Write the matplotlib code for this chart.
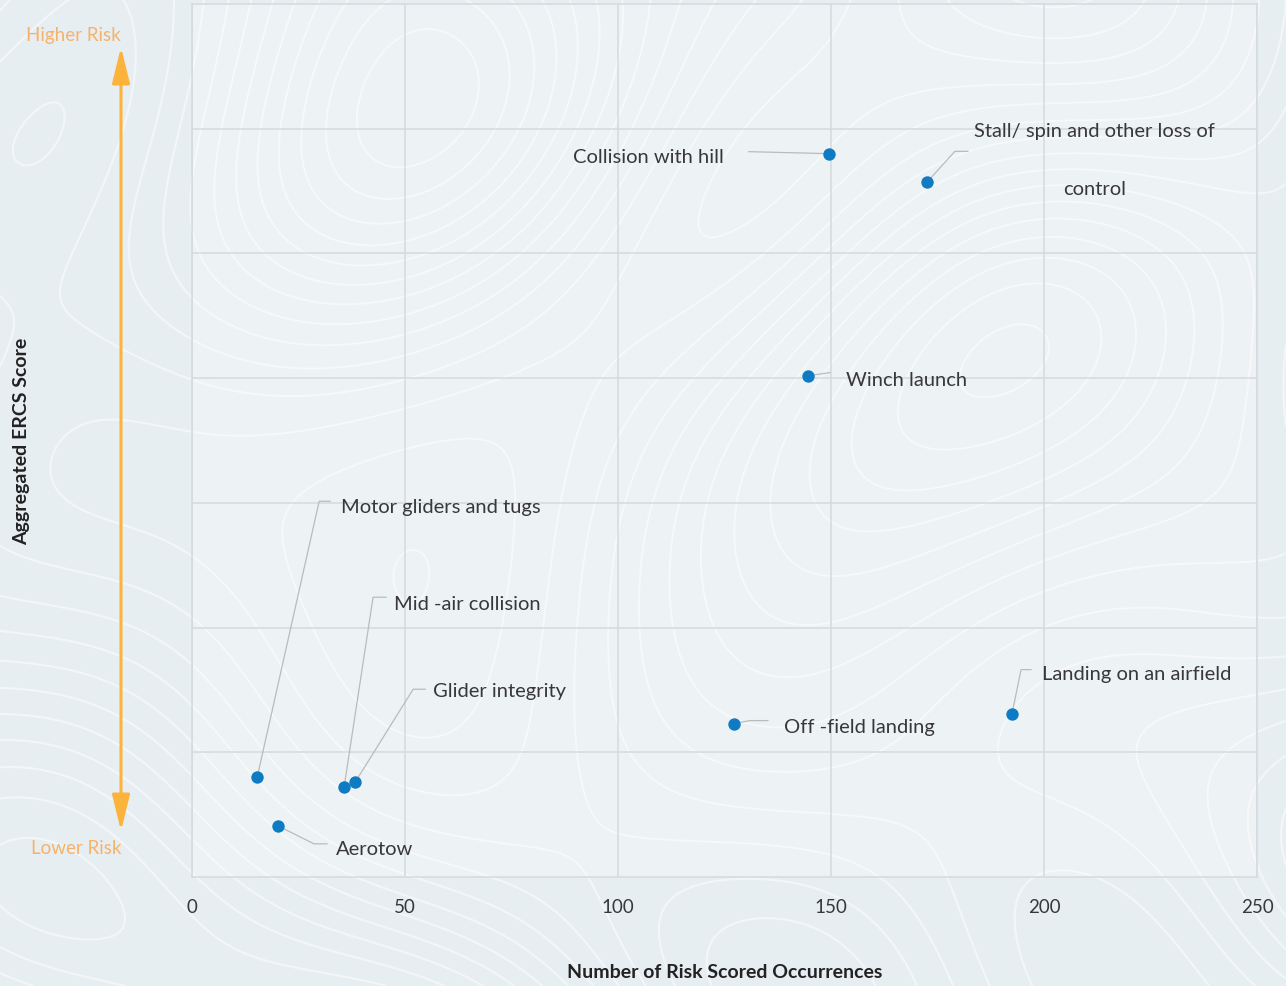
import numpy as np
import matplotlib
matplotlib.use("Agg")
import matplotlib.pyplot as plt
from matplotlib.patches import FancyArrowPatch, ArrowStyle

# ---- data ---------------------------------------------------------------
categories = [
    "Collision with hill",
    "Stall/ spin and other loss of\ncontrol",
    "Winch launch",
    "Motor gliders and tugs",
    "Mid -air collision",
    "Glider integrity",
    "Aerotow",
    "Off -field landing",
    "Landing on an airfield",
]
occurrences = [149.5, 172.5, 144.6, 15.3, 35.7, 38.3, 20.2, 127.2, 192.5]
ercs_score = [5.80, 5.57, 4.02, 0.80, 0.72, 0.76, 0.41, 1.23, 1.31]

x_ticks = [0, 50, 100, 150, 200, 250]
x_tick_labels = ["0", "50", "100", "150", "200", "250"]
y_grid = [1, 2, 3, 4, 5, 6]

# ---- label layout: leader vertices and text anchor as pixel offsets -------
# (dx, dy) with dy positive downwards
label_layout = {
    "Collision with hill": dict(leader=[(-80, -2)], text=(-105, 3), ha="right"),
    "Stall/ spin and other loss of\ncontrol": dict(leader=[(28, -31), (41, -31)], text=(168, -23), ha="center"),
    "Winch launch": dict(leader=[(22, -3)], text=(38, 4), ha="left"),
    "Motor gliders and tugs": dict(leader=[(62, -276), (73, -276)], text=(84, -271), ha="left"),
    "Mid -air collision": dict(leader=[(29, -190), (42, -190)], text=(50, -184), ha="left"),
    "Glider integrity": dict(leader=[(58, -93), (70, -93)], text=(78, -92), ha="left"),
    "Aerotow": dict(leader=[(36, 18), (49, 18)], text=(58, 23), ha="left"),
    "Off -field landing": dict(leader=[(16, -3), (34, -3)], text=(50, 3), ha="left"),
    "Landing on an airfield": dict(leader=[(9, -44), (19, -44)], text=(30, -40), ha="left"),
}

# ---- style --------------------------------------------------------------
BG = "#E7EEF2"
GRID = "#D6DADD"
DOT = "#0F7BC3"
TEXT = "#383838"
ORANGE = "#FBB33C"
ORANGE_TXT = "#F7B26A"
FONT = "Lato"

W, H, DPI = 1286, 987, 100
fig = plt.figure(figsize=(W / DPI, H / DPI), dpi=DPI, facecolor=BG)

# decorative topographic background
bg = fig.add_axes([0, 0, 1, 1], zorder=0)
bg.set_axis_off()
u, v = np.meshgrid(np.linspace(0, 1, 700), np.linspace(0, 1, 540))
field = (np.sin(8.1 * u + 2.3 * np.sin(4.2 * v) + 0.4)
         + 0.8 * np.cos(6.3 * v - 1.9 * np.cos(3.7 * u) + 1.1)
         + 0.5 * np.sin(12.0 * u * v + 4.0 * u - 3.0 * v)
         + 0.3 * np.cos(14.0 * u - 7.0 * v + 0.7))
bg.contour(u, v, field, levels=np.linspace(-2.4, 2.4, 19),
           colors="white", linewidths=1.5, alpha=0.5, linestyles="solid")
bg.set_xlim(0, 1)
bg.set_ylim(0, 1)

left, right, top, bottom = 192, 1257, 5, 878
ax = fig.add_axes([left / W, 1 - bottom / H, (right - left) / W, (bottom - top) / H], zorder=1)
ax.set_facecolor((1, 1, 1, 0.25))
ax.set_xlim(0, 250)
ax.set_ylim(0, 7)
ax.set_xticks(x_ticks)
ax.set_xticklabels(x_tick_labels)
ax.set_yticks(y_grid)
ax.set_yticklabels([])
ax.tick_params(axis="both", length=0)
ax.tick_params(axis="x", pad=15, labelsize=13.5, labelcolor=TEXT)
for lbl in ax.get_xticklabels():
    lbl.set_fontfamily(FONT)
ax.grid(True, color=GRID, linewidth=1.1)
ax.set_axisbelow(True)
for sp in ax.spines.values():
    sp.set_color(GRID)
    sp.set_linewidth(1.1)

ax.set_xlabel("Number of Risk Scored Occurrences", fontfamily=FONT,
              fontweight="bold", fontsize=14, color="#222222")
ax.xaxis.set_label_coords(0.5, -(973 - bottom) / (bottom - top))
ax.xaxis.label.set_va("center")
ax.set_ylabel("Aggregated ERCS Score", fontfamily=FONT,
              fontweight="bold", fontsize=14, color="#222222")
ax.yaxis.set_label_coords((22 - left) / (right - left), 0.5)
ax.yaxis.label.set_va("center")

ax.scatter(occurrences, ercs_score, s=80, color=DOT, zorder=4, linewidths=0)

# leader lines and labels
to_disp = ax.transData.transform
to_data = ax.transData.inverted().transform
for name, xv, yv in zip(categories, occurrences, ercs_score):
    lay = label_layout[name]
    px, py = to_disp((xv, yv))
    verts = [(px, py)] + [(px + dx, py - dy) for dx, dy in lay["leader"]]
    dverts = to_data(np.array(verts))
    ax.plot(dverts[:, 0], dverts[:, 1], color="#B8BCBF", lw=0.9, zorder=3)
    tx, ty = to_data((px + lay["text"][0], py - lay["text"][1]))
    ax.text(tx, ty, name, ha=lay["ha"], va="center", fontsize=14.5,
            fontfamily=FONT, fontweight="normal", color=TEXT,
            linespacing=3.95, multialignment="center", zorder=5)

# risk direction arrow
arrow_x = (121 - left) / (right - left)
arr = FancyArrowPatch((arrow_x, (bottom - 832) / (bottom - top)),
                      (arrow_x, (bottom - 48) / (bottom - top)),
                      transform=ax.transAxes,
                      arrowstyle=ArrowStyle("<|-|>", head_length=1.1, head_width=0.27),
                      mutation_scale=20, color=ORANGE, lw=2.2,
                      shrinkA=0, shrinkB=0, clip_on=False, zorder=5)
ax.add_patch(arr)
ax.text(arrow_x, (bottom - 36) / (bottom - top), "Higher Risk", transform=ax.transAxes,
        ha="right", va="center", fontsize=13.5, fontfamily=FONT, fontweight="normal",
        color=ORANGE_TXT, clip_on=False)
ax.text(arrow_x, (bottom - 849) / (bottom - top), "Lower Risk", transform=ax.transAxes,
        ha="right", va="center", fontsize=13.5, fontfamily=FONT, fontweight="normal",
        color=ORANGE_TXT, clip_on=False)

fig.savefig("out.png", dpi=DPI, facecolor=BG)
